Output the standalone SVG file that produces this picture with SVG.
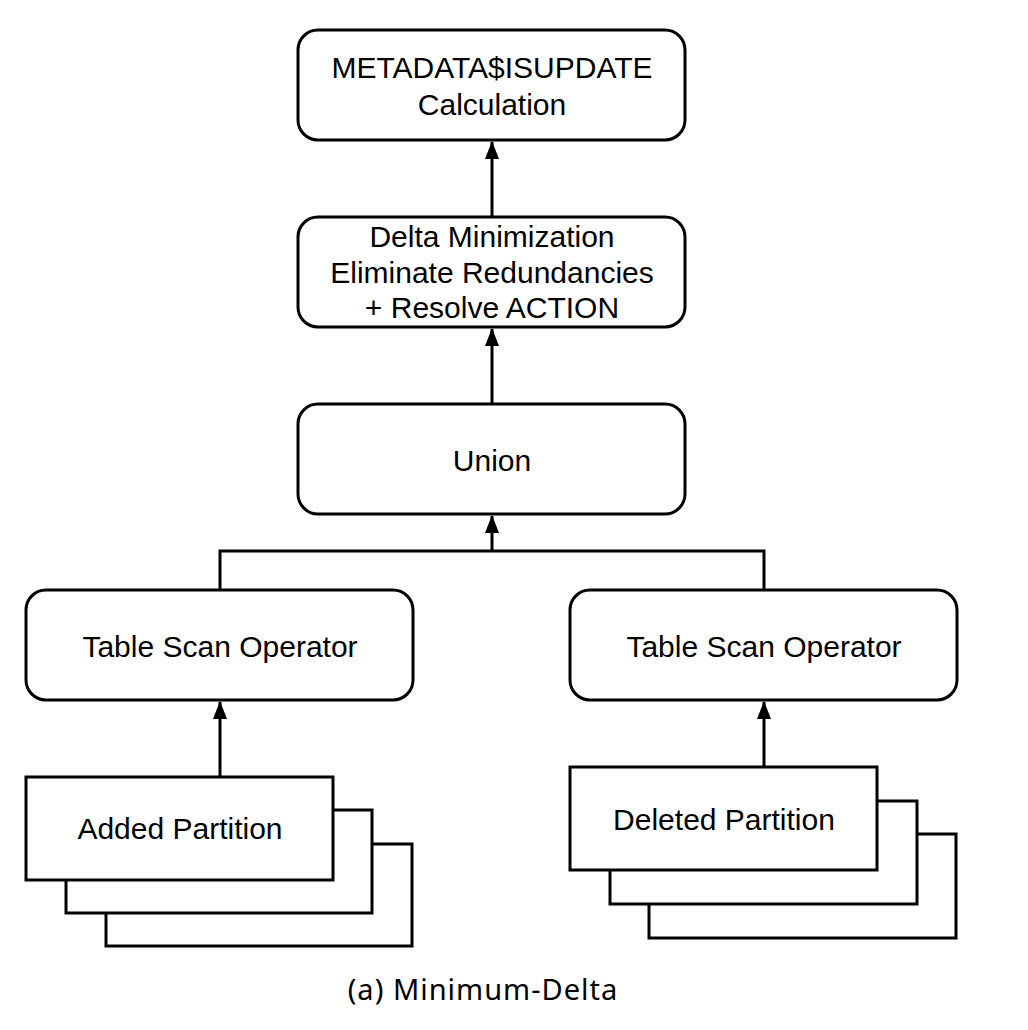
<svg xmlns="http://www.w3.org/2000/svg" width="1028" height="1030" viewBox="0 0 1028 1030">
<style>
.box{fill:#fff;stroke:#000;stroke-width:3}
.t{font-family:"Liberation Sans",Arial,sans-serif;font-size:30px;fill:#000;text-anchor:middle}
.c{fill:none;stroke:#000;stroke-width:3}
.cap{font-family:"Noto Sans","DejaVu Sans",sans-serif;font-size:29px;letter-spacing:1px;fill:#000;text-anchor:middle}
</style>
<defs>
<marker id="a" viewBox="0 0 18 14" refX="17" refY="7" markerWidth="18" markerHeight="14" markerUnits="userSpaceOnUse" orient="auto">
<path d="M0,0 L18,7 L0,14 Z" fill="#000"/>
</marker>
</defs>
<rect width="1028" height="1030" fill="#fff"/>
<g id="calc">
<rect class="box" x="298" y="30" width="387" height="110" rx="20"/>
<text class="t" x="492" y="78">METADATA$ISUPDATE</text>
<text class="t" x="492" y="115">Calculation</text>
</g>
<g id="delta">
<rect class="box" x="298" y="217" width="387" height="110" rx="20"/>
<text class="t" x="492" y="247">Delta Minimization</text>
<text class="t" x="492" y="283">Eliminate Redundancies</text>
<text class="t" x="492" y="318">+ Resolve ACTION</text>
</g>
<g id="union">
<rect class="box" x="298" y="404" width="387" height="110" rx="20"/>
<text class="t" x="492" y="471">Union</text>
</g>
<g id="tso-left">
<rect class="box" x="26" y="590" width="387" height="110" rx="20"/>
<text class="t" x="220" y="657">Table Scan Operator</text>
</g>
<g id="tso-right">
<rect class="box" x="570" y="590" width="387" height="110" rx="20"/>
<text class="t" x="764" y="657">Table Scan Operator</text>
</g>
<g id="added">
<rect class="box" x="106" y="844" width="306" height="102"/>
<rect class="box" x="66" y="810" width="306" height="103"/>
<rect class="box" x="26" y="777" width="307" height="103"/>
<text class="t" x="180" y="839">Added Partition</text>
</g>
<g id="deleted">
<rect class="box" x="649" y="834" width="307" height="104"/>
<rect class="box" x="610" y="801" width="307" height="103"/>
<rect class="box" x="570" y="767" width="307" height="103"/>
<text class="t" x="724" y="830">Deleted Partition</text>
</g>
<g id="connectors">
<line class="c" x1="492" y1="217" x2="492" y2="142" marker-end="url(#a)"/>
<line class="c" x1="492" y1="404" x2="492" y2="329" marker-end="url(#a)"/>
<polyline class="c" points="220,590 220,551 764,551 764,590"/>
<line class="c" x1="492" y1="551" x2="492" y2="516" marker-end="url(#a)"/>
<line class="c" x1="220" y1="777" x2="220" y2="702" marker-end="url(#a)"/>
<line class="c" x1="764" y1="767" x2="764" y2="702" marker-end="url(#a)"/>
</g>
<text class="cap" x="483" y="1000">(a) Minimum-Delta</text>
</svg>
